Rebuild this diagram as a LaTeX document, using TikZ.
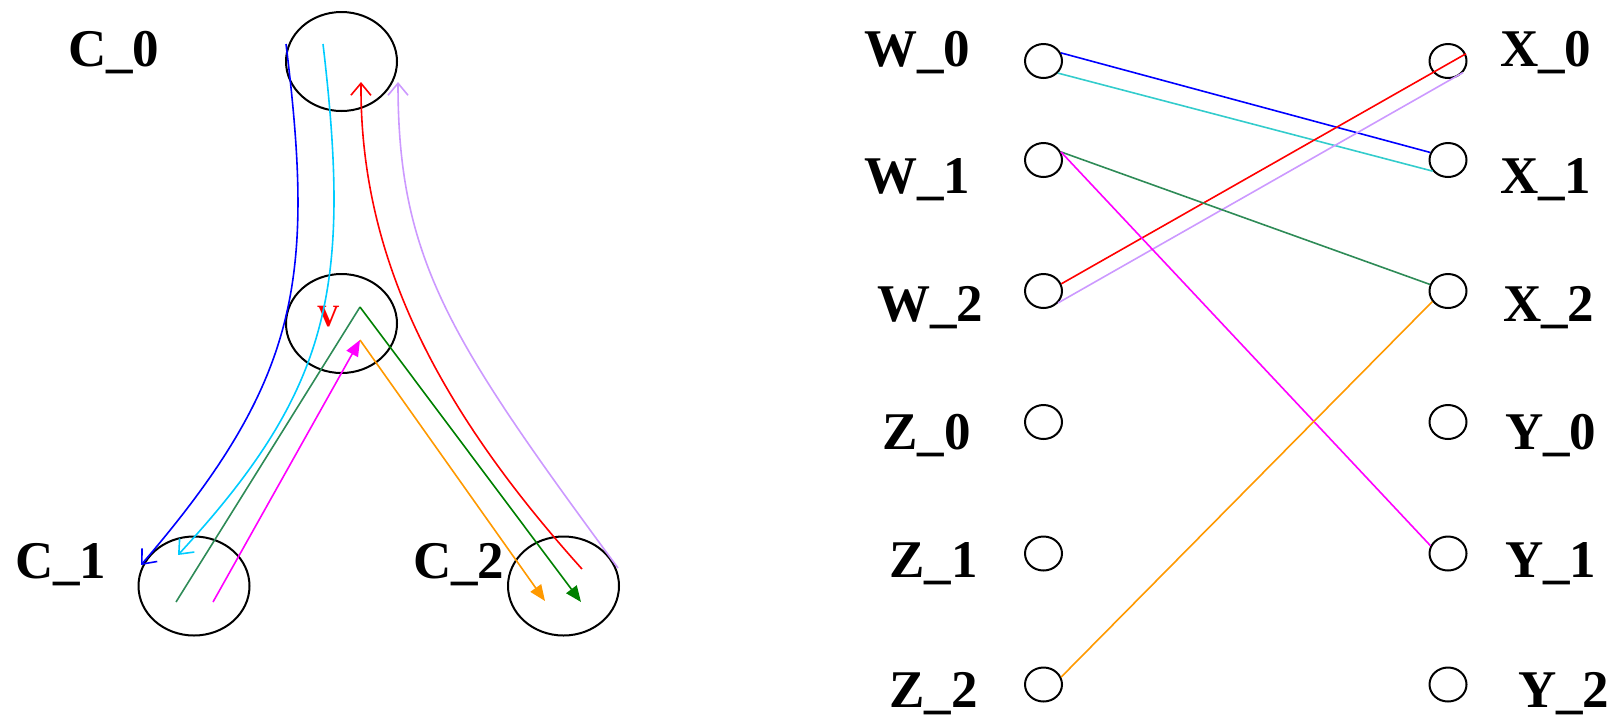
\documentclass[tikz,border=0pt]{standalone}
\usepackage{fontspec}
\setmainfont{Liberation Serif}
\usetikzlibrary{arrows.meta,shapes.geometric}
\definecolor{cblue}{RGB}{0,0,255}
\definecolor{cskyl}{RGB}{0,204,255}
\definecolor{cturq}{RGB}{51,204,204}
\definecolor{cred}{RGB}{255,0,0}
\definecolor{clav}{RGB}{204,153,255}
\definecolor{csea}{RGB}{46,139,87}
\definecolor{cgreen}{RGB}{0,128,0}
\definecolor{cmag}{RGB}{255,0,255}
\definecolor{corange}{RGB}{255,153,0}
\begin{document}
\begin{tikzpicture}[x=1pt,y=-1pt,
  bigc/.style={ellipse,draw,line width=2pt,minimum width=111pt,minimum height=99pt,inner sep=0pt},
  smallc/.style={ellipse,draw,line width=2pt,minimum width=37pt,minimum height=34pt,inner sep=0pt},
  lab/.style={inner sep=0pt,anchor=base west,font=\fontsize{53}{60}\selectfont\bfseries},
  conn/.style={line width=1.6pt},
  openarr/.style={-{Straight Barb[length=12pt,width=20pt]}},
  fillarr/.style={-{Triangle[length=16pt,width=13pt]}}]
\useasboundingbox (0,0) rectangle (1611,716);

% ---- left panel ----
\node[bigc] (c0) at (341.5,61.5) {};
\node[bigc] (v)  at (341.5,323.5) {};
\node[bigc] (c1) at (194,586) {};
\node[bigc] (c2) at (563.5,586) {};
\node[lab] (lc0) at (68,66) {C\_0};
\node[lab] (lc1) at (15,578) {C\_1};
\node[lab] (lc2) at (413,578) {C\_2};
\node[inner sep=0pt,anchor=base west,text=cred,font=\fontsize{31}{36}\selectfont\bfseries] (lv) at (317,326) {V};

\coordinate (bS) at (286,44);
\coordinate (bE) at (141,565);
\coordinate (sS) at (323,44);
\coordinate (sE) at (178,555);
\coordinate (rS) at (582,569);
\coordinate (rE) at (361,82);
\coordinate (lS) at (618,568);
\coordinate (lE) at (398,82);
\coordinate (gS) at (176,602);
\coordinate (gT) at (360,307);
\coordinate (gE) at (581,602);
\coordinate (mS) at (213,602);
\coordinate (mE) at (360,340);
\coordinate (oE) at (545,601);

\draw[conn,cblue,openarr] (bS) .. controls (315,280) and (300,380) .. (bE);
\draw[conn,cskyl,openarr] (sS) .. controls (352,290) and (330,390) .. (sE);
\draw[conn,cred,openarr] (rS) .. controls (430,400) and (360,250) .. (rE);
\draw[conn,clav,openarr] (lS) .. controls (450,340) and (398,260) .. (lE);
\draw[conn,csea] (gS) -- (gT);
\draw[conn,cgreen,fillarr] (gT) -- (gE);
\draw[conn,cmag,fillarr] (mS) -- (mE);
\draw[conn,corange,fillarr] (mE) -- (oE);

% ---- right panel ----
\node[smallc] (w0) at (1043.5,61) {};
\node[smallc] (w1) at (1043.5,160) {};
\node[smallc] (w2) at (1043.5,291) {};
\node[smallc] (z0) at (1043.5,422) {};
\node[smallc] (z1) at (1043.5,553.5) {};
\node[smallc] (z2) at (1043.5,684.5) {};
\node[smallc] (x0) at (1448,61) {};
\node[smallc] (x1) at (1448,160) {};
\node[smallc] (x2) at (1448,291) {};
\node[smallc] (y0) at (1448,422) {};
\node[smallc] (y1) at (1448,553.5) {};
\node[smallc] (y2) at (1448,684.5) {};

\node[lab] (lw0) at (864,66) {W\_0};
\node[lab] (lw1) at (864,193) {W\_1};
\node[lab] (lw2) at (877,321) {W\_2};
\node[lab] (lz0) at (882,449) {Z\_0};
\node[lab] (lz1) at (889,577) {Z\_1};
\node[lab] (lz2) at (889,707) {Z\_2};
\node[lab] (lx0) at (1500,66) {X\_0};
\node[lab] (lx1) at (1500,193) {X\_1};
\node[lab] (lx2) at (1503,321) {X\_2};
\node[lab] (ly0) at (1505,449) {Y\_0};
\node[lab] (ly1) at (1505,577) {Y\_1};
\node[lab] (ly2) at (1518,707) {Y\_2};

\draw[conn,cblue] (w0.25) -- (x1.157);
\draw[conn,cturq] (w0.-40) -- (x1.216);
\draw[conn,cred] (w2.22) -- (x0.22);
\draw[conn,clav] (w2.-39) -- (x0.-38);
\draw[conn,csea] (w1.25) -- (x2.160);
\draw[conn,cmag] (w1.25) -- (y1.156);
\draw[conn,corange] (x2.214) -- (z2.23);
\end{tikzpicture}
\end{document}
